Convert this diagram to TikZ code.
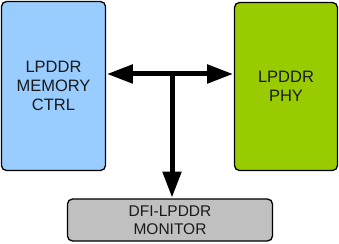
\documentclass[tikz,border=0pt]{standalone}
\usepackage{fontspec}
\setmainfont{Liberation Sans}
\usetikzlibrary{arrows.meta}
\definecolor{ctrlblue}{HTML}{99CCFF}
\definecolor{phygreen}{HTML}{99CC00}
\definecolor{mongray}{HTML}{C0C0C0}
\definecolor{txt}{HTML}{1A1A1A}
\begin{document}
\begin{tikzpicture}[x=1pt,y=1pt,
  blockbox/.style={draw=black, line width=1.3pt, rounded corners=5pt, inner sep=0pt,
    align=center, text=txt, font=\fontsize{16.5}{18.8}\selectfont},
  busarrow/.style={line width=5pt, -{Triangle[length=26pt,width=18pt]}},
  busarrows/.style={line width=5pt, {Triangle[length=26pt,width=18pt]}-{Triangle[length=26pt,width=18pt]}}]
\useasboundingbox (0,0) rectangle (339,243);
\node[blockbox, fill=ctrlblue, minimum width=104pt, minimum height=169pt] (L) at (53.5,157) {LPDDR\\MEMORY\\CTRL};
\node[blockbox, fill=phygreen, minimum width=103pt, minimum height=168pt] (R) at (286,156.5) {LPDDR\\PHY};
\node[blockbox, fill=mongray, minimum width=205pt, minimum height=42pt, font=\fontsize{15.5}{18.3}\selectfont] (M) at (170,23) {DFI-LPDDR\\MONITOR};
\coordinate (j) at (172,169);
\draw[busarrows] ([xshift=0.7pt]L.east |- j) -- ([xshift=-0.7pt]R.west |- j);
\draw[busarrow] ([yshift=2.5pt]j) -- ([yshift=0.7pt]j |- M.north);
\end{tikzpicture}
\end{document}
